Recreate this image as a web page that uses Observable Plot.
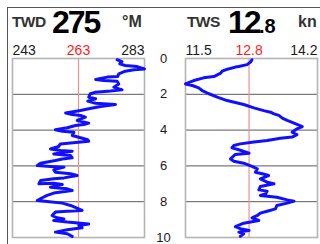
<!DOCTYPE html>
<html><head><meta charset="utf-8">
<script src="https://cdn.jsdelivr.net/npm/d3@7"></script>
<script src="https://cdn.jsdelivr.net/npm/@observablehq/plot@0.6"></script>
<style>
html,body{margin:0;padding:0;background:#fff;}
#wrap{position:relative;width:320px;height:244px;overflow:hidden;font-family:"Liberation Sans",Arial,sans-serif;}
#wrap svg{position:absolute;top:0;}
.hd{position:absolute;line-height:1;white-space:nowrap;font-weight:bold;}
#border{position:absolute;left:7px;top:7px;width:320px;height:244px;border-top:1px solid #555;border-left:1px solid #555;}
</style></head>
<body><div id="wrap"><div id="border"></div></div>
<script>
// TWD panel (°M) — depth 0..10 vs direction
const twdDepth = [0.07,0.17,0.30,0.39,0.45,0.58,0.63,0.71,0.86,1.0,1.04,1.17,1.23,1.27,1.42,1.60,1.75,1.82,1.88,1.97,2.16,2.25,2.38,2.50,2.57,2.68,2.81,2.90,3.05,3.13,3.18,3.28,3.46,3.61,3.69,3.74,3.87,3.98,4.06,4.12,4.30,4.43,4.54,4.62,4.77,4.92,5.05,5.14,5.18,5.33,5.42,5.55,5.61,5.70,5.85,5.98,6.03,6.07,6.22,6.35,6.44,6.54,6.67,6.72,6.82,7.00,6.97,7.04,7.19,7.28,7.37,7.52,7.65,7.78,7.93,7.99,8.08,8.21,8.49,8.53,8.58,8.77,8.90,8.96,9.05,9.14,9.24,9.33,9.46,9.57,9.70,9.79,9.94];
const twdValue = [274.7,276.2,275.5,277.2,280.8,283.0,279.8,277.2,275.2,274.9,271.7,268.2,270.7,274.7,275.2,273.7,276.2,272.7,268.2,266.6,266.1,268.2,265.8,268.2,274.2,269.7,266.1,263.6,259.1,261.1,263.6,265.1,262.6,266.1,264.6,262.1,259.6,256.0,258.1,261.6,261.1,263.6,265.8,266.1,257.5,257.0,254.5,257.5,261.1,255.5,260.6,261.1,258.1,256.0,251.5,250.5,254.5,258.6,255.5,256.0,260.6,262.6,258.6,255.5,251.5,251.0,255.5,258.1,254.5,259.6,261.1,255.5,253.5,252.0,250.5,253.5,258.1,260.6,264.1,259.6,256.0,255.0,256.5,258.6,255.5,259.6,266.1,263.1,264.1,259.6,256.0,259.6,261.1];
const twdTicks = [243, 263, 283];
const twdTitle = "TWD", twdCurrent = "275", twdUnit = "°M";

// TWS panel (kn)
const twsDepth = [0.07,0.20,0.34,0.45,0.48,0.63,0.71,0.82,1.01,1.08,1.23,1.42,1.51,1.64,1.79,1.97,2.16,2.35,2.57,2.76,2.91,3.00,3.09,3.18,3.33,3.46,3.61,3.80,3.93,4.12,4.25,4.39,4.45,4.58,4.67,4.77,4.86,4.99,5.10,5.29,5.36,5.61,5.74,5.85,6.03,6.16,6.35,6.44,6.54,6.72,6.91,7.00,7.15,7.34,7.41,7.56,7.65,7.75,7.90,7.97,8.08,8.21,8.40,8.53,8.64,8.77,8.90,9.05,9.20,9.39,9.51,9.61,9.70,9.79,9.94];
const twsValue = [12.86,12.83,12.76,12.59,12.52,12.32,12.25,12.22,12.08,11.87,11.67,11.50,11.64,11.77,11.84,11.98,12.15,12.35,12.69,12.90,13.10,13.24,13.31,13.41,13.48,13.58,13.72,13.89,13.78,13.68,13.78,13.68,13.44,13.17,12.90,12.62,12.49,12.45,12.59,12.80,12.52,12.42,12.49,12.69,12.86,12.97,12.93,13.07,13.20,13.03,13.17,13.31,13.03,13.00,13.17,13.14,13.03,13.37,13.58,13.72,13.58,13.37,13.34,13.17,13.03,12.97,12.86,13.00,12.69,12.52,12.62,12.80,12.59,12.69,12.62];
const twsTicks = [11.5, 12.8, 14.2];
const twsTitle = "TWS", twsCurrentInt = "12", twsCurrentDec = ".8", twsUnit = "kn";

const depthTicks = [0, 2, 4, 6, 8, 10];
const gridTicks = [2, 4, 6, 8];

const blue = "#1010ff", red = "#ff1a1a", refRed = "#f29090", frameGray = "#b4b4b4", gridGray = "#5a5a5a", ink = "#1a1a1a";

function panel(depth, values, ticks, opts) {
  const data = depth.map((d, i) => ({depth: d, value: values[i]}));
  const tickStyle = {frameAnchor: "top", lineAnchor: "bottom", dy: -4, fontSize: 14, fontFamily: "Liberation Sans, Arial, sans-serif"};
  const marks = [
    Plot.ruleY(gridTicks, {y: d => d, stroke: gridGray, strokeWidth: 1}),
    Plot.ruleX([ticks[1]], {x: d => d, stroke: refRed, strokeWidth: 1.2}),
    Plot.frame({stroke: frameGray, strokeWidth: 1.6}),
    Plot.line(data, {x: "value", y: "depth", stroke: blue, strokeWidth: 3, strokeLinejoin: "round", strokeLinecap: "round"}),
    Plot.text([ticks[0]], {x: d => d, text: d => String(d), textAnchor: "start", fill: ink, ...tickStyle}),
    Plot.text([ticks[1]], {x: d => d, text: d => String(d), textAnchor: "middle", fill: red, ...tickStyle}),
    Plot.text([ticks[2]], {x: d => d, text: d => String(d), textAnchor: "end", fill: ink, ...tickStyle})
  ];
  if (opts.depthLabels) {
    marks.push(Plot.text(depthTicks, {y: d => d, text: d => String(d), frameAnchor: "left", dx: -22, textAnchor: "middle", fontSize: 13, fill: ink, fontFamily: "Liberation Sans, Arial, sans-serif"}));
  }
  return Plot.plot({
    width: 160, height: 244,
    marginLeft: opts.ml, marginRight: opts.mr, marginTop: 58, marginBottom: 7,
    x: {domain: [ticks[0], ticks[2]], axis: null},
    y: {domain: [0, 10], reverse: true, axis: null},
    style: {background: "transparent", overflow: "visible"},
    marks
  });
}

const wrap = document.getElementById("wrap");
const left = panel(twdDepth, twdValue, twdTicks, {ml: 12, mr: 16});
left.style.left = "0px";
wrap.appendChild(left);
const right = panel(twsDepth, twsValue, twsTicks, {ml: 25, mr: 3, depthLabels: true});
right.style.left = "160px";
wrap.appendChild(right);

function hd(text, x, top, size, color, ls) {
  const s = document.createElement("span");
  s.className = "hd";
  s.textContent = text;
  s.style.left = x + "px";
  s.style.top = top + "px";
  s.style.fontSize = size + "px";
  s.style.color = color;
  if (ls) s.style.letterSpacing = ls + "px";
  wrap.appendChild(s);
  return s;
}
hd(twdTitle, 12, 13.5, 15.5, "#333", -0.6);
hd(twdCurrent, 52, 5.5, 32, "#000", -2);
hd(twdUnit, 122, 13.5, 16, "#333", 0);
hd(twsTitle, 187, 13.5, 15.5, "#333", -0.6);
hd(twsCurrentInt, 228, 5.5, 32, "#000", -2);
hd(twsCurrentDec, 259, 15.5, 20, "#000", 0);
hd(twsUnit, 298, 13.5, 16, "#333", 0);
</script>
</body></html>
